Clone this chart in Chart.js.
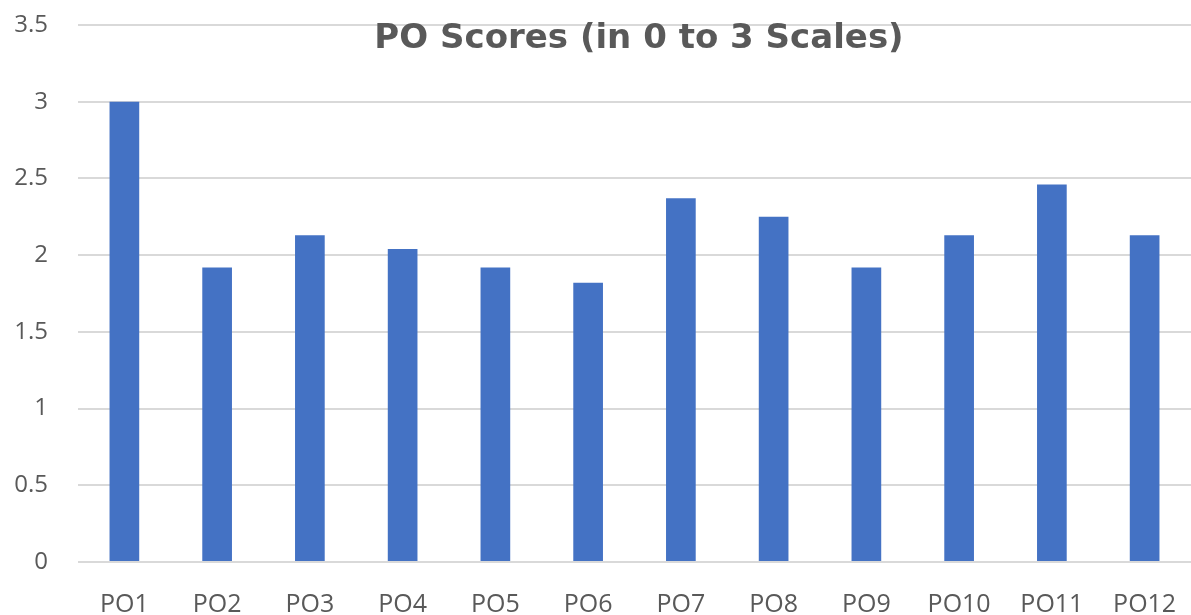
<!DOCTYPE html>
<html lang="en">
<head>
    <meta charset="UTF-8">
    <title>PO Scores</title>
    <script src="https://cdn.jsdelivr.net/npm/chart.js"></script>
    <style>
        body {
            margin: 0;
            background: #ffffff;
        }
        .wrap {
            width: 1191px;
            height: 615px;
        }
    </style>
</head>
<body>
    <div class="wrap">
        <canvas id="poChart" width="1191" height="615"></canvas>
    </div>

    <script>
        const chartTitle = 'PO Scores (in 0 to 3 Scales)';
        const categories = ['PO1', 'PO2', 'PO3', 'PO4', 'PO5', 'PO6', 'PO7', 'PO8', 'PO9', 'PO10', 'PO11', 'PO12'];
        const scores = [3.0, 1.92, 2.13, 2.04, 1.92, 1.82, 2.37, 2.25, 1.92, 2.13, 2.46, 2.13];
        const yTicks = [0, 0.5, 1, 1.5, 2, 2.5, 3, 3.5];

        const textGrey = '#595959';
        const fontFamily = '"Open Sans", "Noto Sans", sans-serif';

        // title sits over the plot area like in the excel chart
        const overlayTitle = {
            id: 'overlayTitle',
            afterDraw(chart) {
                const ctx = chart.ctx;
                ctx.save();
                ctx.font = 'bold 34px "DejaVu Sans", sans-serif';
                ctx.fillStyle = textGrey;
                ctx.textAlign = 'center';
                ctx.textBaseline = 'alphabetic';
                ctx.fillText(chartTitle, 639, 48);
                ctx.restore();
            }
        };

        const ctx = document.getElementById('poChart').getContext('2d');
        new Chart(ctx, {
            type: 'bar',
            data: {
                labels: categories,
                datasets: [{
                    label: 'PO Score',
                    data: scores,
                    backgroundColor: '#4472C4',
                    borderWidth: 0,
                    categoryPercentage: 1,
                    barPercentage: 0.32
                }]
            },
            options: {
                responsive: false,
                animation: false,
                layout: {
                    padding: { top: 25, right: -3, left: 0, bottom: 0 }
                },
                plugins: {
                    legend: { display: false },
                    tooltip: { enabled: false },
                    title: { display: false }
                },
                scales: {
                    x: {
                        // invisible tick marks push the labels down without padding the chart area
                        grid: { color: 'transparent', tickColor: 'transparent', drawTicks: true, tickLength: 28 },
                        border: { display: false },
                        ticks: {
                            color: textGrey,
                            font: { family: fontFamily, size: 25 },
                            padding: 0,
                            maxRotation: 0,
                            autoSkip: false
                        },
                        afterFit(scale) { scale.height = 53; }
                    },
                    y: {
                        min: 0,
                        max: 3.5,
                        afterBuildTicks(scale) {
                            scale.ticks = yTicks.map(v => ({ value: v }));
                        },
                        grid: { color: '#d9d9d9', lineWidth: 2, drawTicks: true, tickLength: 30, tickColor: 'transparent' },
                        border: { display: false },
                        ticks: {
                            color: textGrey,
                            font: { family: fontFamily, size: 24 },
                            padding: 0,
                            callback: v => String(v)
                        },
                        afterFit(scale) { scale.width = 78; }
                    }
                }
            },
            plugins: [overlayTitle]
        });
    </script>
</body>
</html>
